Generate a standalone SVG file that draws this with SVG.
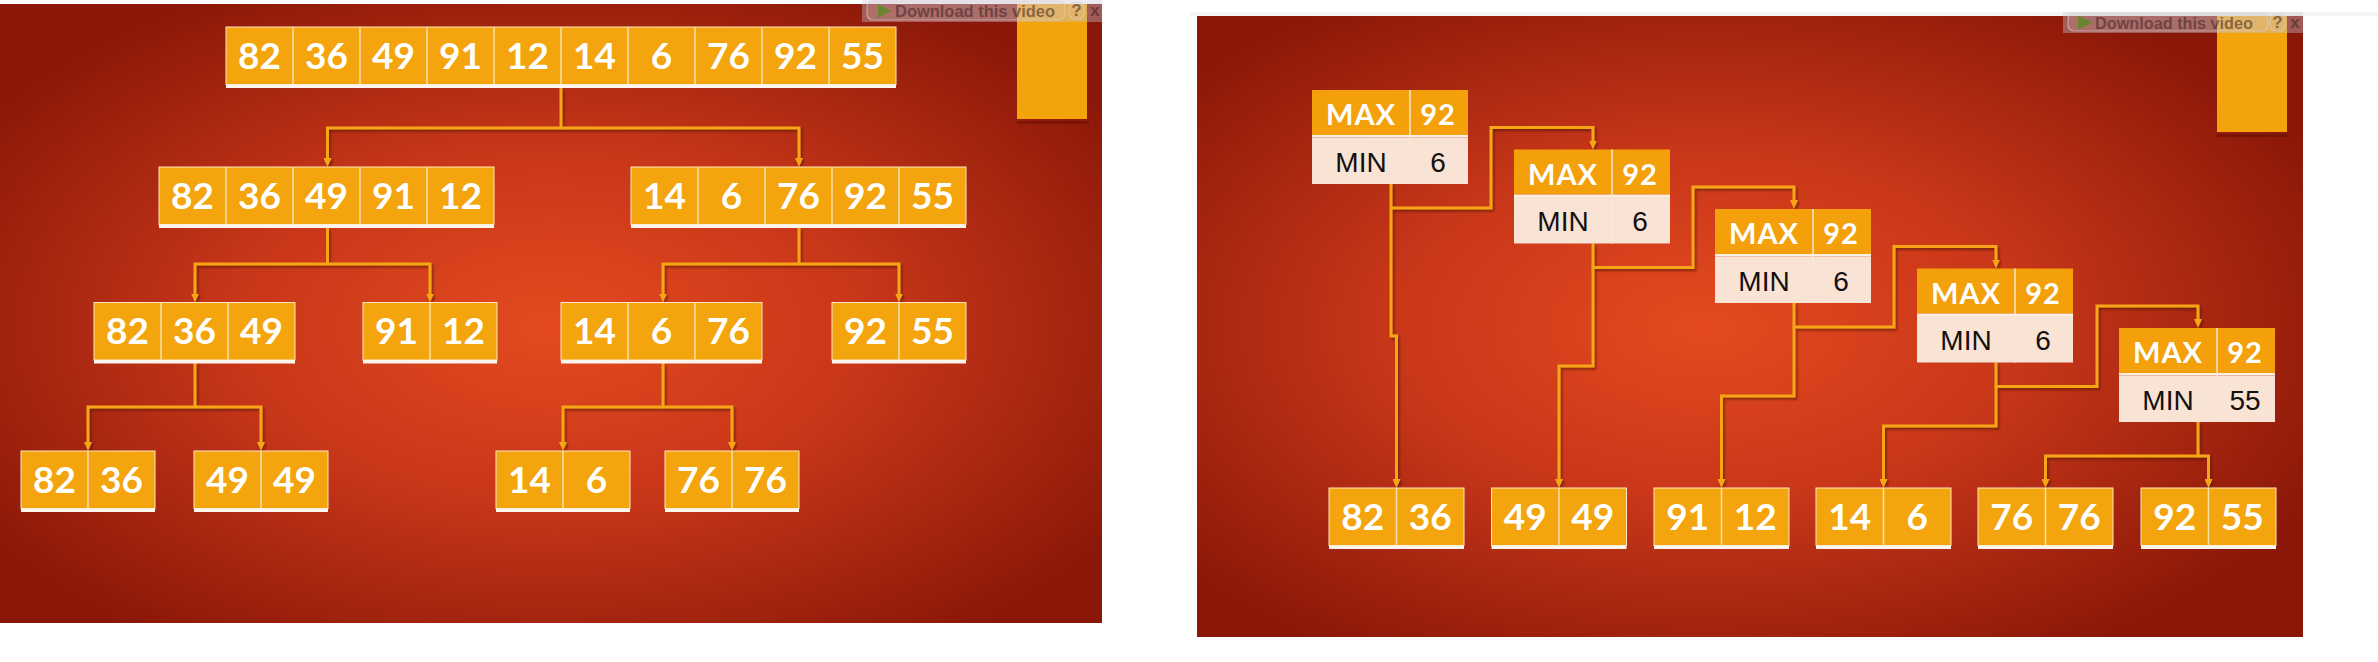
<svg xmlns="http://www.w3.org/2000/svg" width="2378" height="662" viewBox="0 0 2378 662">
<defs>
<radialGradient id="bgL" cx="0.5" cy="0.52" r="0.62">
<stop offset="0" stop-color="#e34a1f"/>
<stop offset="0.45" stop-color="#c93719"/>
<stop offset="0.8" stop-color="#a0230e"/>
<stop offset="1" stop-color="#8a1708"/>
</radialGradient>
<radialGradient id="bgR" cx="0.46" cy="0.5" r="0.62">
<stop offset="0" stop-color="#e34a1f"/>
<stop offset="0.45" stop-color="#c93719"/>
<stop offset="0.8" stop-color="#a0230e"/>
<stop offset="1" stop-color="#8a1708"/>
</radialGradient>
<marker id="arr" viewBox="0 0 9 8" refX="4" refY="4" markerWidth="9" markerHeight="8" markerUnits="userSpaceOnUse" orient="auto">
<path d="M0,0 L9,4 L0,8 z" fill="#f7a516"/>
</marker>
<filter id="sh" x="-5%" y="-5%" width="110%" height="110%">
<feDropShadow dx="1.5" dy="2" stdDeviation="0.8" flood-color="#4a0800" flood-opacity="0.6"/>
</filter>
</defs>
<style>
.cell{fill:#f4a40c;stroke:#fde7c2;stroke-width:1}
.bar{fill:#fdf6ee}
.div{stroke:#fbe0ac;stroke-width:1.5;fill:none}
.num{font-family:Lato,"Open Sans","Liberation Sans",sans-serif;font-weight:700;font-size:37px;fill:#ffffff;text-anchor:middle}
.hd{fill:#f3a00b}
.lo{fill:#f8e3d4}
.sep{fill:#fcefe2}
.cdiv{stroke:#fbe8d2;stroke-width:1.5}
.mx{font-family:Lato,"Open Sans","Liberation Sans",sans-serif;font-weight:700;font-size:29px;fill:#ffffff;text-anchor:middle;letter-spacing:1px}
.mn{font-family:"Liberation Sans",Arial,sans-serif;font-weight:400;font-size:28px;fill:#141010;text-anchor:middle}
.conn{fill:none;stroke:#f7a516;stroke-width:3}
.ov{fill:#c8c8d6;fill-opacity:0.38}
.btn{fill:#d8c8c8;fill-opacity:0.18;stroke:#e0d0d0;stroke-opacity:0.6;stroke-width:1.2}
.dl{font-family:"Liberation Sans",Arial,sans-serif;font-weight:700;font-size:17px;fill:#3a2020;fill-opacity:0.55}
.deco{fill:#f3a40a}
</style>

<!-- panels -->
<rect x="0" y="4" width="1102" height="619" fill="url(#bgL)"/>
<rect x="1190" y="12" width="1188" height="4" fill="#f4f4f4"/>
<rect x="1197" y="16" width="1106" height="621" fill="url(#bgR)"/>

<!-- decorative rectangles -->
<g id="decoL"><rect x="1017" y="121" width="72" height="3" fill="#5a0a00" fill-opacity="0.45"/><rect class="deco" x="1017" y="4" width="70" height="115"/></g>
<g id="decoR"><rect x="2217" y="134" width="72" height="3" fill="#5a0a00" fill-opacity="0.45"/><rect class="deco" x="2217" y="16" width="70" height="116"/></g>

<!-- connectors -->
<g id="connectors" filter="url(#sh)">
<path class="conn" d="M561,88 V128 H327.5 V162" marker-end="url(#arr)"/>
<path class="conn" d="M561,128 H799 V162" marker-end="url(#arr)"/>
<path class="conn" d="M327.5,228 V264 H195 V297.5" marker-end="url(#arr)"/>
<path class="conn" d="M327.5,264 H430 V297.5" marker-end="url(#arr)"/>
<path class="conn" d="M799,228 V264 H663 V297.5" marker-end="url(#arr)"/>
<path class="conn" d="M799,264 H899 V297.5" marker-end="url(#arr)"/>
<path class="conn" d="M195,363 V407 H88 V446" marker-end="url(#arr)"/>
<path class="conn" d="M195,407 H261 V446" marker-end="url(#arr)"/>
<path class="conn" d="M663,363 V407 H563 V446" marker-end="url(#arr)"/>
<path class="conn" d="M663,407 H732 V446" marker-end="url(#arr)"/>

<path class="conn" d="M1391,184 V208 H1491 V127.5 H1593 V144.5" marker-end="url(#arr)"/>
<path class="conn" d="M1391,208 V336 H1396.5 V483" marker-end="url(#arr)"/>
<path class="conn" d="M1593,243.5 V267.5 H1693 V187 H1794 V204" marker-end="url(#arr)"/>
<path class="conn" d="M1593,267.5 V366 H1559 V483" marker-end="url(#arr)"/>
<path class="conn" d="M1794,303 V327 H1894 V246.5 H1996 V263.5" marker-end="url(#arr)"/>
<path class="conn" d="M1794,327 V396 H1721.5 V483" marker-end="url(#arr)"/>
<path class="conn" d="M1996,362.5 V386.5 H2097 V306 H2198 V323" marker-end="url(#arr)"/>
<path class="conn" d="M1996,386.5 V426 H1883.5 V483" marker-end="url(#arr)"/>
<path class="conn" d="M2198,422 V456 H2045.5 V483" marker-end="url(#arr)"/>
<path class="conn" d="M2198,456 H2208.5 V483" marker-end="url(#arr)"/>
</g>

<!-- left tree -->
<g id="top">
<rect class="cell" x="226" y="27" width="670" height="57.5"/><rect class="bar" x="226" y="84.5" width="670" height="3.5"/>
<path class="div" d="M293,27v57.5M360,27v57.5M427,27v57.5M494,27v57.5M561,27v57.5M628,27v57.5M695,27v57.5M762,27v57.5M829,27v57.5"/>
<text class="num" x="259.5" y="68.5">82</text><text class="num" x="326.5" y="68.5">36</text><text class="num" x="393.5" y="68.5">49</text><text class="num" x="460.5" y="68.5">91</text><text class="num" x="527.5" y="68.5">12</text><text class="num" x="594.5" y="68.5">14</text><text class="num" x="661.5" y="68.5">6</text><text class="num" x="728.5" y="68.5">76</text><text class="num" x="795.5" y="68.5">92</text><text class="num" x="862.5" y="68.5">55</text>
</g>
<g id="l2a">
<rect class="cell" x="159" y="167" width="335" height="57.5"/><rect class="bar" x="159" y="224.5" width="335" height="3.5"/>
<path class="div" d="M226,167v57.5M293,167v57.5M360,167v57.5M427,167v57.5"/>
<text class="num" x="192.5" y="208.5">82</text><text class="num" x="259.5" y="208.5">36</text><text class="num" x="326.5" y="208.5">49</text><text class="num" x="393.5" y="208.5">91</text><text class="num" x="460.5" y="208.5">12</text>
</g>
<g id="l2b">
<rect class="cell" x="631" y="167" width="335" height="57.5"/><rect class="bar" x="631" y="224.5" width="335" height="3.5"/>
<path class="div" d="M698,167v57.5M765,167v57.5M832,167v57.5M899,167v57.5"/>
<text class="num" x="664.5" y="208.5">14</text><text class="num" x="731.5" y="208.5">6</text><text class="num" x="798.5" y="208.5">76</text><text class="num" x="865.5" y="208.5">92</text><text class="num" x="932.5" y="208.5">55</text>
</g>
<g id="l3a">
<rect class="cell" x="94" y="302.5" width="201" height="57.5"/><rect class="bar" x="94" y="360" width="201" height="3.5"/>
<path class="div" d="M161,302.5v57.5M228,302.5v57.5"/>
<text class="num" x="127.5" y="344">82</text><text class="num" x="194.5" y="344">36</text><text class="num" x="261.5" y="344">49</text>
</g>
<g id="l3b">
<rect class="cell" x="363" y="302.5" width="134" height="57.5"/><rect class="bar" x="363" y="360" width="134" height="3.5"/>
<path class="div" d="M430,302.5v57.5"/>
<text class="num" x="396.5" y="344">91</text><text class="num" x="463.5" y="344">12</text>
</g>
<g id="l3c">
<rect class="cell" x="561" y="302.5" width="201" height="57.5"/><rect class="bar" x="561" y="360" width="201" height="3.5"/>
<path class="div" d="M628,302.5v57.5M695,302.5v57.5"/>
<text class="num" x="594.5" y="344">14</text><text class="num" x="661.5" y="344">6</text><text class="num" x="728.5" y="344">76</text>
</g>
<g id="l3d">
<rect class="cell" x="832" y="302.5" width="134" height="57.5"/><rect class="bar" x="832" y="360" width="134" height="3.5"/>
<path class="div" d="M899,302.5v57.5"/>
<text class="num" x="865.5" y="344">92</text><text class="num" x="932.5" y="344">55</text>
</g>
<g id="l4a">
<rect class="cell" x="21" y="451" width="134" height="57.5"/><rect class="bar" x="21" y="508.5" width="134" height="3.5"/>
<path class="div" d="M88,451v57.5"/>
<text class="num" x="54.5" y="492.5">82</text><text class="num" x="121.5" y="492.5">36</text>
</g>
<g id="l4b">
<rect class="cell" x="194" y="451" width="134" height="57.5"/><rect class="bar" x="194" y="508.5" width="134" height="3.5"/>
<path class="div" d="M261,451v57.5"/>
<text class="num" x="227.5" y="492.5">49</text><text class="num" x="294.5" y="492.5">49</text>
</g>
<g id="l4c">
<rect class="cell" x="496" y="451" width="134" height="57.5"/><rect class="bar" x="496" y="508.5" width="134" height="3.5"/>
<path class="div" d="M563,451v57.5"/>
<text class="num" x="529.5" y="492.5">14</text><text class="num" x="596.5" y="492.5">6</text>
</g>
<g id="l4d">
<rect class="cell" x="665" y="451" width="134" height="57.5"/><rect class="bar" x="665" y="508.5" width="134" height="3.5"/>
<path class="div" d="M732,451v57.5"/>
<text class="num" x="698.5" y="492.5">76</text><text class="num" x="765.5" y="492.5">76</text>
</g>

<!-- right: max/min boxes -->
<g id="mm1">
<rect class="hd" x="1312" y="90" width="156" height="45"/><rect class="sep" x="1312" y="135" width="156" height="2.5"/><rect class="lo" x="1312" y="137.5" width="156" height="46.5"/>
<path class="cdiv" d="M1410,90V184"/>
<text class="mx" x="1361" y="125">MAX</text><text class="mx" x="1438" y="125">92</text>
<text class="mn" x="1361" y="171.5">MIN</text><text class="mn" x="1438" y="171.5">6</text>
</g>
<g id="mm2">
<rect class="hd" x="1514" y="149.5" width="156" height="45"/><rect class="sep" x="1514" y="194.5" width="156" height="2.5"/><rect class="lo" x="1514" y="197" width="156" height="46.5"/>
<path class="cdiv" d="M1612,149.5V243.5"/>
<text class="mx" x="1563" y="184.5">MAX</text><text class="mx" x="1640" y="184.5">92</text>
<text class="mn" x="1563" y="231">MIN</text><text class="mn" x="1640" y="231">6</text>
</g>
<g id="mm3">
<rect class="hd" x="1715" y="209" width="156" height="45"/><rect class="sep" x="1715" y="254" width="156" height="2.5"/><rect class="lo" x="1715" y="256.5" width="156" height="46.5"/>
<path class="cdiv" d="M1813,209V303"/>
<text class="mx" x="1764" y="244">MAX</text><text class="mx" x="1841" y="244">92</text>
<text class="mn" x="1764" y="290.5">MIN</text><text class="mn" x="1841" y="290.5">6</text>
</g>
<g id="mm4">
<rect class="hd" x="1917" y="268.5" width="156" height="45"/><rect class="sep" x="1917" y="313.5" width="156" height="2.5"/><rect class="lo" x="1917" y="316" width="156" height="46.5"/>
<path class="cdiv" d="M2015,268.5V362.5"/>
<text class="mx" x="1966" y="303.5">MAX</text><text class="mx" x="2043" y="303.5">92</text>
<text class="mn" x="1966" y="350">MIN</text><text class="mn" x="2043" y="350">6</text>
</g>
<g id="mm5">
<rect class="hd" x="2119" y="328" width="156" height="45"/><rect class="sep" x="2119" y="373" width="156" height="2.5"/><rect class="lo" x="2119" y="375.5" width="156" height="46.5"/>
<path class="cdiv" d="M2217,328V422"/>
<text class="mx" x="2168" y="363">MAX</text><text class="mx" x="2245" y="363">92</text>
<text class="mn" x="2168" y="409.5">MIN</text><text class="mn" x="2245" y="409.5">55</text>
</g>

<!-- right: bottom pairs -->
<g id="r1">
<rect class="cell" x="1329" y="488" width="135" height="57.5"/><rect class="bar" x="1329" y="545.5" width="135" height="3.5"/>
<path class="div" d="M1396.5,488v57.5"/>
<text class="num" x="1362.75" y="529.5">82</text><text class="num" x="1430.25" y="529.5">36</text>
</g>
<g id="r2">
<rect class="cell" x="1491.5" y="488" width="135" height="57.5"/><rect class="bar" x="1491.5" y="545.5" width="135" height="3.5"/>
<path class="div" d="M1559,488v57.5"/>
<text class="num" x="1525.25" y="529.5">49</text><text class="num" x="1592.75" y="529.5">49</text>
</g>
<g id="r3">
<rect class="cell" x="1654" y="488" width="135" height="57.5"/><rect class="bar" x="1654" y="545.5" width="135" height="3.5"/>
<path class="div" d="M1721.5,488v57.5"/>
<text class="num" x="1687.75" y="529.5">91</text><text class="num" x="1755.25" y="529.5">12</text>
</g>
<g id="r4">
<rect class="cell" x="1816" y="488" width="135" height="57.5"/><rect class="bar" x="1816" y="545.5" width="135" height="3.5"/>
<path class="div" d="M1883.5,488v57.5"/>
<text class="num" x="1849.75" y="529.5">14</text><text class="num" x="1917.25" y="529.5">6</text>
</g>
<g id="r5">
<rect class="cell" x="1978" y="488" width="135" height="57.5"/><rect class="bar" x="1978" y="545.5" width="135" height="3.5"/>
<path class="div" d="M2045.5,488v57.5"/>
<text class="num" x="2011.75" y="529.5">76</text><text class="num" x="2079.25" y="529.5">76</text>
</g>
<g id="r6">
<rect class="cell" x="2141" y="488" width="135" height="57.5"/><rect class="bar" x="2141" y="545.5" width="135" height="3.5"/>
<path class="div" d="M2208.5,488v57.5"/>
<text class="num" x="2174.75" y="529.5">92</text><text class="num" x="2242.25" y="529.5">55</text>
</g>

<!-- video overlays -->
<g id="overlayL">
<rect class="ov" x="862" y="0" width="240" height="22"/>
<rect class="btn" x="867" y="1" width="198" height="19" rx="6"/>
<path d="M878,4 L891,11 L878,18 z" fill="#5a8a20" fill-opacity="0.8"/>
<text class="dl" x="895" y="17" textLength="160" lengthAdjust="spacingAndGlyphs">Download this video</text>
<rect class="btn" x="1069" y="2" width="15" height="17" rx="6"/>
<text class="dl" x="1076.5" y="16" text-anchor="middle" font-size="15">?</text>
<text class="dl" x="1095" y="16" text-anchor="middle" font-size="15">x</text>
</g>
<g id="overlayR">
<rect class="ov" x="2063" y="12" width="240" height="21"/>
<rect class="btn" x="2068" y="13" width="200" height="18" rx="6"/>
<path d="M2078,15.5 L2093,22.5 L2078,29.5 z" fill="#5a8a20" fill-opacity="0.8"/>
<text class="dl" x="2095" y="28.5" textLength="158" lengthAdjust="spacingAndGlyphs">Download this video</text>
<rect class="btn" x="2270" y="14" width="15" height="17" rx="6"/>
<text class="dl" x="2277.5" y="28" text-anchor="middle" font-size="15">?</text>
<text class="dl" x="2295" y="28" text-anchor="middle" font-size="15">x</text>
</g>
</svg>
